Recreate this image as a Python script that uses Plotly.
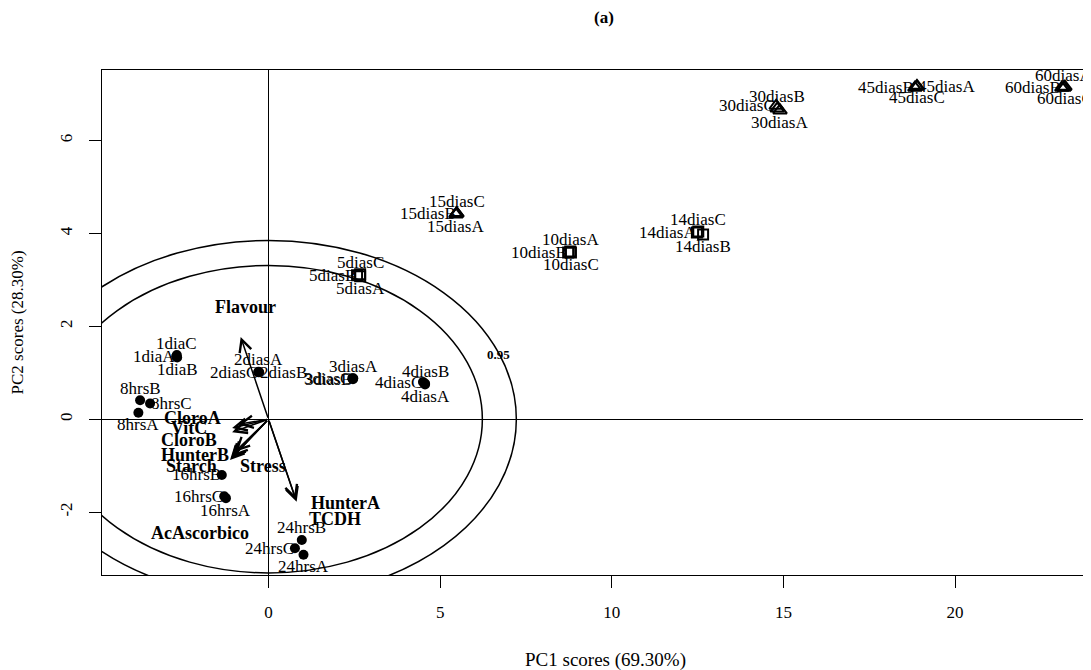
import plotly.graph_objects as go

# ---------------- data ----------------
sample_labels = ["8hrsA", "8hrsB", "8hrsC", "16hrsA", "16hrsB", "16hrsC",
                 "24hrsA", "24hrsB", "24hrsC", "1diaA", "1diaB", "1diaC",
                 "2diasA", "2diasB", "2diasC", "3diasA", "3diasB", "3diasC",
                 "4diasA", "4diasB", "4diasC", "5diasA", "5diasB", "5diasC",
                 "10diasA", "10diasB", "10diasC", "14diasA", "14diasB", "14diasC",
                 "15diasA", "15diasB", "15diasC", "30diasA", "30diasB", "30diasC",
                 "45diasA", "45diasB", "45diasC", "60diasA", "60diasB", "60diasC"]
pc1 = [-3.79, -3.74, -3.45, -1.24, -1.36, -1.29,
       1.02, 0.97, 0.77, -2.69, -2.66, -2.67,
       -0.29, -0.27, -0.30, 2.47, 2.46, 2.44,
       4.56, 4.56, 4.50, 2.67, 2.58, 2.67,
       8.79, 8.73, 8.81, 12.48, 12.66, 12.52,
       5.46, 5.49, 5.48, 14.90, 14.82, 14.79,
       18.89, 18.83, 18.89, 23.17, 23.11, 23.20]
pc2 = [0.14, 0.41, 0.34, -1.70, -1.20, -1.66,
       -2.92, -2.60, -2.78, 1.35, 1.33, 1.38,
       1.02, 1.01, 1.01, 0.88, 0.86, 0.88,
       0.75, 0.77, 0.80, 3.08, 3.10, 3.12,
       3.61, 3.59, 3.59, 4.02, 3.98, 4.04,
       4.41, 4.43, 4.44, 6.65, 6.69, 6.75,
       7.16, 7.14, 7.18, 7.14, 7.14, 7.16]
sample_group = (["circle"] * 21) + (["square"] * 9) + (["triangle"] * 12)

var_names = ["Flavour", "HunterA", "TCDH", "CloroA", "VitC", "CloroB",
             "HunterB", "Starch", "Stress", "AcAscorbico"]
var_pc1 = [-0.81, 0.82, 0.80, -0.88, -1.06, -1.06, -1.12, -1.09, -0.97, -1.03]
var_pc2 = [1.77, -1.78, -1.74, -0.11, -0.19, -0.28, -0.88, -0.84, -0.70, -0.80]
var_label_pc1 = [-0.68, 2.23, 1.94, -2.21, -2.33, -2.33, -2.14, -2.23, -0.15, -1.99]
var_label_pc2 = [2.42, -1.80, -2.14, 0.02, -0.20, -0.45, -0.77, -1.00, -1.00, -2.45]

ellipse_levels = ["", "0.95"]
ellipse_semi_pc1 = [6.23, 7.22]
ellipse_semi_pc2 = [3.31, 3.85]
level_label_pc1 = 6.69
level_label_pc2 = 1.40

x_ticks = [0, 5, 10, 15, 20]
y_ticks = [-2, 0, 2, 4, 6]

# ---------------- styles ----------------
label_side = ["bottom", "top", "right", "bottom", "left", "left",
              "bottom", "top", "left", "left", "bottom", "top",
              "top", "right", "left", "top", "left", "left",
              "bottom", "top", "left", "bottom", "left", "top",
              "top", "left", "bottom", "left", "bottom", "top",
              "bottom", "left", "top", "bottom", "top", "left",
              "right", "left", "bottom", "top", "left", "bottom"]
side_style = {
    "top": dict(xanchor="center", yanchor="middle", xshift=0, yshift=12),
    "bottom": dict(xanchor="center", yanchor="middle", xshift=0, yshift=-12),
    "left": dict(xanchor="right", yanchor="middle", xshift=1, yshift=0),
    "right": dict(xanchor="left", yanchor="middle", xshift=-1, yshift=0),
}
marker_style = {
    "circle": dict(symbol="circle", size=10, color="black"),
    "square": dict(symbol="square-open", size=10, color="black", line=dict(width=2, color="black")),
    "triangle": dict(symbol="triangle-up-open", size=12, color="black", line=dict(width=2, color="black")),
}
FONT = "Liberation Serif"

fig = go.Figure()

for grp, mstyle in marker_style.items():
    xs = [x for x, g in zip(pc1, sample_group) if g == grp]
    ys = [y for y, g in zip(pc2, sample_group) if g == grp]
    fig.add_trace(go.Scatter(x=xs, y=ys, mode="markers", marker=mstyle,
                             showlegend=False, hoverinfo="skip"))

annotations = []
for name, x, y, side in zip(sample_labels, pc1, pc2, label_side):
    annotations.append(dict(x=x, y=y, xref="x", yref="y", text=name, showarrow=False,
                            font=dict(family=FONT, size=17, color="black"),
                            **side_style[side]))

for name, x, y, lx, ly in zip(var_names, var_pc1, var_pc2, var_label_pc1, var_label_pc2):
    annotations.append(dict(x=x, y=y, ax=0, ay=0, xref="x", yref="y", axref="x", ayref="y",
                            text="", showarrow=True, arrowhead=5, arrowsize=1.6,
                            arrowwidth=1.5, arrowcolor="black"))
    annotations.append(dict(x=lx, y=ly, xref="x", yref="y", text="<b>%s</b>" % name,
                            showarrow=False, font=dict(family=FONT, size=18, color="black"),
                            xanchor="center", yanchor="middle"))

annotations.append(dict(x=level_label_pc1, y=level_label_pc2, xref="x", yref="y",
                        text="<b>%s</b>" % ellipse_levels[1], showarrow=False,
                        font=dict(family=FONT, size=13, color="black")))

# titles (paper coords)
annotations.append(dict(x=0.5086, y=-0.1683, xref="paper", yref="paper", text="PC1 scores (69.30%)",
                        showarrow=False, font=dict(family=FONT, size=19, color="black"),
                        xanchor="center", yanchor="middle"))
annotations.append(dict(x=-0.0850, y=0.5, xref="paper", yref="paper", text="PC2 scores (28.30%)",
                        showarrow=False, textangle=-90, font=dict(family=FONT, size=17, color="black"),
                        xanchor="center", yanchor="middle"))
annotations.append(dict(x=0.508, y=1.103, xref="paper", yref="paper", text="<b>(a)</b>",
                        showarrow=False, font=dict(family=FONT, size=17, color="black"),
                        xanchor="center", yanchor="middle"))

shapes = []
for a, b in zip(ellipse_semi_pc1, ellipse_semi_pc2):
    shapes.append(dict(type="circle", xref="x", yref="y", x0=-a, x1=a, y0=-b, y1=b,
                       line=dict(color="black", width=1.5), layer="above"))

# page body adds an 8px offset, so the figure is sized/margined to compensate
fig.update_layout(
    width=1083, height=662,
    margin=dict(l=94, r=0, t=62, b=95),
    paper_bgcolor="white", plot_bgcolor="white",
    showlegend=False,
    annotations=annotations,
    shapes=shapes,
    xaxis=dict(range=[-4.85, 23.96], tickvals=x_ticks, ticktext=[str(t) for t in x_ticks],
               ticks="outside", ticklen=12, tickcolor="black", tickwidth=1,
               showline=True, linecolor="black", linewidth=1, mirror=True,
               showgrid=False, zeroline=True, zerolinecolor="black", zerolinewidth=1,
               tickfont=dict(family=FONT, size=17, color="black"), ticklabelstandoff=10),
    yaxis=dict(range=[-3.355, 7.52], tickvals=y_ticks, ticktext=[str(t) for t in y_ticks],
               ticks="outside", ticklen=12, tickcolor="black", tickwidth=1, tickangle=-90,
               showline=True, linecolor="black", linewidth=1, mirror=False,
               showgrid=False, zeroline=True, zerolinecolor="black", zerolinewidth=1,
               tickfont=dict(family=FONT, size=17, color="black"), ticklabelstandoff=10),
)

fig.write_html("out.html")
